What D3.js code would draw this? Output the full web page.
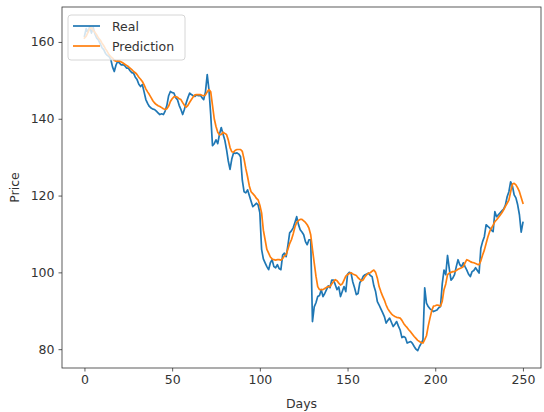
<!DOCTYPE html>
<html>
<head>
<meta charset="utf-8">
<script src="https://cdn.jsdelivr.net/npm/d3@7"></script>
<style>
  body { margin: 0; background: #fff; }
  svg { display: block; font-family: "DejaVu Sans", sans-serif; }
</style>
</head>
<body>
<div id="chart"></div>
<script>
// values, one per day (index = day)
const real = [
  161.5, 163.5, 162.5, 164, 162.3, 163.8, 162, 161, 160.5, 159.5,
  158.5, 158, 157, 156.5, 156.2, 155.5, 153.5, 152.3, 154, 155,
  154.5, 154, 154.1, 153.8, 153.2, 153.2, 152.5, 152, 151.9, 150.8,
  150.2, 149, 148.4, 148.9, 147, 145, 144, 143.2, 142.8, 142.5,
  142.4, 142, 141.5, 141.1, 141.3, 141.1, 142, 143.5, 146, 147.1,
  146.8, 146.7, 145.5, 145, 143.5, 142.4, 141.1, 142.5, 144.1, 145.5,
  146.7, 146.3, 146, 145.8, 146.2, 146, 146.2, 145.5, 145, 147,
  151.5, 147.5, 141, 133, 133.5, 134.5, 133.5, 136, 137.7, 136,
  134.5, 132, 129, 126.8, 129.5, 131.1, 131, 131.1, 130.8, 130.1,
  124, 121, 120.7, 121.5, 120, 118.5, 117.1, 117.5, 118, 117.6,
  115.5, 106, 103.5, 102.5, 101.5, 100.7, 102.5, 103.3, 101.5, 101.2,
  102, 101, 100.7, 104.5, 105, 104.1, 107, 110.3, 110.8, 111.6,
  113, 114.5, 112.5, 111.1, 110.5, 109.8, 108, 107.2, 108.5, 108.5,
  87.2, 91, 92.1, 93.7, 94, 95.5, 93.7, 94.5, 95.5, 96.5,
  96, 98, 98, 96.8, 95.5, 96.2, 93.7, 95, 96.3, 95,
  99.5, 100, 99.8, 97.5, 96, 94.2, 94.5, 97.3, 98, 99,
  99.4, 99.6, 99.8, 99.2, 98.9, 96.5, 95, 92.4, 91.5, 90.5,
  89.5, 88.5, 86.8, 87.5, 88.1, 87, 85.9, 86.5, 87.2, 86,
  85, 83, 83.3, 83, 81.6, 81.8, 82, 81.5, 80.7, 80,
  79.6, 80.7, 81.5, 82.4, 96, 92, 91.1, 90.5, 90.2, 89.8,
  90, 90.2, 90.8, 91.1, 97, 100.6, 99.4, 104.4, 101, 98,
  98.5, 99.4, 101.5, 103.3, 102, 101.5, 102.5, 101.5, 100.6, 99.5,
  98.9, 100.2, 100.5, 101.2, 100.5, 99.8, 106.3, 108, 109.3, 112.4,
  112, 111.6, 111, 110.6, 115.8, 114.5, 115, 115.5, 116, 116.5,
  117.5, 119.7, 121, 123.6, 122.5, 120.2, 119.4, 117.6, 115, 110.5,
  113
];

const prediction = [
  161, 161.5, 162.5, 163.5, 163.7, 163, 162.5, 161.8, 161, 160.5,
  159.7, 159, 158.2, 157.5, 156.7, 156.2, 155.8, 155.2, 155, 155,
  155, 154.8, 154.5, 154.2, 153.9, 153.6, 153.2, 152.8, 152.3, 152,
  151.5, 150.8, 150.3, 149.7, 148.8, 147.8, 147, 146.3, 145.5, 144.7,
  144.1, 143.7, 143.4, 143.2, 142.9, 142.6, 142.4, 142.6, 143.3, 144.5,
  145.2, 145.7, 145.8, 145.6, 145.2, 145, 144.2, 143.5, 143, 143.5,
  144.3, 145, 145.7, 146.2, 146.3, 146.3, 146.3, 146.1, 146, 146.2,
  147, 147.6, 147, 143.5, 140, 138, 136.5, 135.8, 135.9, 136.5,
  136.2, 135.9, 134.5, 132.5, 131.4, 131.3, 131.8, 132, 132, 132,
  131.5, 129.5, 127, 124.9, 122.5, 121, 120.5, 120, 119.3, 118.9,
  117.5, 115.5, 111, 108.5, 106, 105, 104, 103.5, 103.3, 103.2,
  103.3, 103.3, 103.2, 103.6, 104.3, 104.6, 106, 107.5, 108.5, 110,
  111.8, 113, 113.5, 113.8, 113.8, 113.4, 113, 112.4, 111.5, 109.8,
  106, 102.5, 99, 96.3, 95.5, 95.5, 95.5, 95.8, 96.1, 96.3,
  96.3, 97, 97.6, 98.1, 97.8, 97.2, 96.7, 97, 98, 99,
  99.4, 99.7, 99.9, 99.6, 99.4, 99.2, 98.6, 98.2, 97.8, 98.1,
  98.9, 99.4, 99.8, 99.9, 100.3, 100.6, 100, 98.5, 96.3, 95,
  93.8, 92.8, 91.5, 90.5, 89.8, 89.2, 88.8, 88.5, 88.3, 88.2,
  88.1, 87.5, 86.7, 86.1, 85.6, 85, 84.5, 83.9, 83.3, 82.8,
  82.3, 82, 81.7, 81.6, 82.5, 83.5, 86, 88.1, 90, 91.2,
  91.3, 91.5, 91.4, 91.2, 92.5, 95.5, 97, 99.4, 99.8, 100,
  100.2, 100.2, 100.5, 100.8, 101, 101.2, 101.5, 102.5, 103.3, 103.1,
  102.8, 102.6, 102.5, 102.3, 102.1, 102, 103, 104.5, 105.8, 107.5,
  109.2, 110.6, 111.5, 112.3, 113.2, 113.7, 114.3, 114.9, 115.5, 116.3,
  117.2, 118, 118.8, 121, 123, 123.2, 122.8, 122, 121, 119.5,
  118
];

const xTicks = [0, 50, 100, 150, 200, 250];
const yTicks = [80, 100, 120, 140, 160];
const seriesNames = ['Real', 'Prediction'];
const colors = ['#1f77b4', '#ff7f0e'];

const width = 544, height = 412;
const plot = { left: 62, right: 541, top: 7, bottom: 368 };

const svg = d3.select('#chart').append('svg')
  .attr('width', width)
  .attr('height', height);

svg.append('rect').attr('width', width).attr('height', height).attr('fill', '#fff');

const x = d3.scaleLinear().domain([-12.8, 260.3]).range([plot.left, plot.right]);
const y = d3.scaleLinear().domain([75.1, 169.1]).range([plot.bottom, plot.top]);

// axes
const xAxis = svg.append('g')
  .attr('transform', 'translate(0,' + plot.bottom + ')')
  .call(d3.axisBottom(x).tickValues(xTicks).tickSize(3.5).tickPadding(4));
const yAxis = svg.append('g')
  .attr('transform', 'translate(' + plot.left + ',0)')
  .call(d3.axisLeft(y).tickValues(yTicks).tickSize(3.5).tickPadding(4));

[xAxis, yAxis].forEach(g => {
  g.select('.domain').remove();
  g.selectAll('.tick line').attr('stroke', '#333').attr('stroke-width', 0.8);
  g.selectAll('.tick text')
    .attr('fill', '#333')
    .style('font-size', '12.5px')
    .style('font-family', '"DejaVu Sans", sans-serif');
});

// lines
const line = d3.line()
  .x((d, i) => x(i))
  .y(d => y(d));

[real, prediction].forEach((series, k) => {
  svg.append('path')
    .datum(series)
    .attr('fill', 'none')
    .attr('stroke', colors[k])
    .attr('stroke-width', 1.7)
    .attr('stroke-linejoin', 'round')
    .attr('stroke-linecap', 'square')
    .attr('d', line);
});

// frame
svg.append('rect')
  .attr('x', plot.left)
  .attr('y', plot.top)
  .attr('width', plot.right - plot.left)
  .attr('height', plot.bottom - plot.top)
  .attr('fill', 'none')
  .attr('stroke', '#333')
  .attr('stroke-width', 0.8);

// axis labels
svg.append('text')
  .attr('x', (plot.left + plot.right) / 2)
  .attr('y', 408)
  .attr('text-anchor', 'middle')
  .attr('fill', '#333')
  .style('font-size', '12.5px')
  .text('Days');

svg.append('text')
  .attr('transform', 'translate(19,' + ((plot.top + plot.bottom) / 2) + ') rotate(-90)')
  .attr('text-anchor', 'middle')
  .attr('fill', '#333')
  .style('font-size', '12.5px')
  .text('Price');

// legend
const legend = svg.append('g').attr('transform', 'translate(68,15)');
legend.append('rect')
  .attr('width', 117)
  .attr('height', 45)
  .attr('rx', 3)
  .attr('fill', '#fff')
  .attr('fill-opacity', 0.8)
  .attr('stroke', '#ccc')
  .attr('stroke-width', 0.8);

seriesNames.forEach((name, k) => {
  const row = legend.append('g').attr('transform', 'translate(0,' + (11 + k * 20) + ')');
  row.append('line')
    .attr('x1', 5).attr('x2', 32)
    .attr('y1', 0).attr('y2', 0)
    .attr('stroke', colors[k])
    .attr('stroke-width', 1.7);
  row.append('text')
    .attr('x', 44)
    .attr('y', 4.5)
    .attr('fill', '#333')
    .style('font-size', '12.5px')
    .text(name);
});
</script>
</body>
</html>
